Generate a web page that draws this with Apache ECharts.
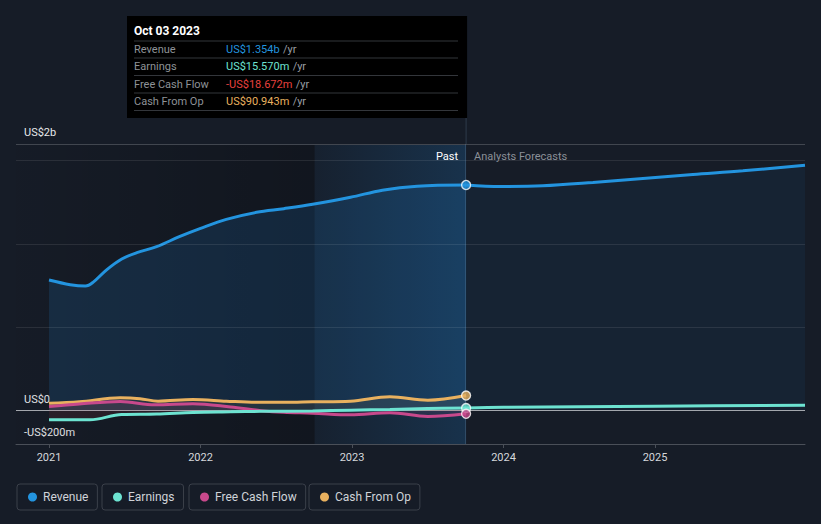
<!DOCTYPE html>
<html>
<head>
<meta charset="utf-8">
<script src="https://cdn.jsdelivr.net/npm/echarts@6/dist/echarts.min.js"></script>
<style>
html,body{margin:0;padding:0;background:#161c27;}
#chart{width:821px;height:524px;}
</style>
</head>
<body>
<div id="chart"></div>
<script>
// ---- data (values in US$ billions, x in decimal years) ----
const pastEnd = 2023.753;
const bandStart = 2022.753;
const xTickValues = [2021, 2022, 2023, 2024, 2025];
const yTickValues = [-0.2, 0, 1.6];
const yTickLabels = ['-US$200m', 'US$0', 'US$2b'];
const gridValues = [0.5, 1.0, 1.5];

const revPastX = [2021.0, 2021.14, 2021.24, 2021.29, 2021.38, 2021.48, 2021.58, 2021.71, 2021.86, 2022.0, 2022.17, 2022.37, 2022.55, 2022.74, 2022.99, 2023.2, 2023.43, 2023.753];
const revPastY = [0.784, 0.756, 0.748, 0.77, 0.845, 0.91, 0.948, 0.984, 1.044, 1.094, 1.148, 1.19, 1.212, 1.238, 1.28, 1.323, 1.347, 1.354];
const revFcX = [2023.753, 2023.98, 2024.26, 2024.59, 2024.92, 2025.25, 2025.58, 2025.99];
const revFcY = [1.354, 1.345, 1.349, 1.369, 1.393, 1.417, 1.439, 1.473];

const earnPastX = [2021.0, 2021.27, 2021.48, 2021.71, 2021.95, 2022.2, 2022.4, 2022.74, 2022.99, 2023.25, 2023.5, 2023.753];
const earnPastY = [-0.055, -0.055, -0.023, -0.02, -0.011, -0.007, -0.004, -0.002, 0.003, 0.007, 0.013, 0.0156];
const earnFcX = [2023.753, 2024.0, 2025.0, 2025.99];
const earnFcY = [0.0156, 0.020, 0.027, 0.033];

const fcfX = [2021.0, 2021.2, 2021.47, 2021.7, 2021.95, 2022.2, 2022.4, 2022.55, 2022.74, 2022.99, 2023.25, 2023.5, 2023.753];
const fcfY = [0.025, 0.04, 0.055, 0.035, 0.042, 0.022, 0.0, -0.01, -0.015, -0.025, -0.012, -0.035, -0.0187];

const cfoX = [2021.0, 2021.2, 2021.47, 2021.6, 2021.72, 2021.95, 2022.17, 2022.37, 2022.55, 2022.74, 2022.99, 2023.25, 2023.5, 2023.753];
const cfoY = [0.044, 0.053, 0.077, 0.072, 0.057, 0.067, 0.057, 0.05, 0.05, 0.053, 0.057, 0.083, 0.063, 0.0909];

const names = ['Revenue', 'Earnings', 'Free Cash Flow', 'Cash From Op'];
const colors = ['#2394df', '#6de3d1', '#c8498c', '#e9b15f'];

const tipTitle = 'Oct 03 2023';
const tipLabels = ['Revenue', 'Earnings', 'Free Cash Flow', 'Cash From Op'];
const tipValues = ['US$1.354b', 'US$15.570m', '-US$18.672m', 'US$90.943m'];
const tipColors = ['#2394df', '#6de3d1', '#e8413e', '#e9b15f'];

// ---- build ----
const zip = (xs, ys) => xs.map((x, i) => [x, ys[i]]);
const chart = echarts.init(document.getElementById('chart'), null, {renderer: 'svg'});

const lineBase = (name, color, data, area) => ({
  type: 'line', name, data, smooth: 0.35, symbol: 'none',
  lineStyle: {color, width: 3}, itemStyle: {color},
  areaStyle: area ? {color: area} : undefined,
  silent: true, animation: false
});

const legendLefts = [17, 102, 189, 309];
const legends = names.map((n, i) => ({
  data: [n], left: legendLefts[i], top: 484, orient: 'horizontal',
  icon: 'circle', itemWidth: 9, itemHeight: 9, itemGap: 0,
  padding: [7, 9, 7, 11], borderColor: '#3b404a', borderWidth: 1, borderRadius: 3,
  textStyle: {color: '#cfd3d8', fontSize: 12, fontFamily: 'Roboto', padding: [0, 0, 0, 1], lineHeight: 12},
  selectedMode: false
}));

const option = {
  backgroundColor: '#161c27',
  textStyle: {fontFamily: 'Roboto'},
  animation: false,
  legend: legends,
  grid: {left: 16, right: 16, top: 144, bottom: 80, containLabel: false},
  xAxis: {
    type: 'value', min: 2020.782, max: 2025.99,
    splitLine: {show: false},
    axisLine: {show: true, onZero: false, lineStyle: {color: '#4a4f58', width: 1}},
    axisTick: {show: true, customValues: xTickValues, length: 4, lineStyle: {color: '#4a4f58'}},
    axisLabel: {customValues: xTickValues, formatter: v => String(Math.round(v)), color: '#d5d8dc', fontSize: 11, margin: 8}
  },
  yAxis: {
    type: 'value', min: -0.2, max: 1.6,
    splitLine: {show: false}, axisLine: {show: false}, axisTick: {show: false},
    axisLabel: {
      customValues: yTickValues, inside: true, align: 'left', verticalAlign: 'bottom',
      margin: 8, color: '#e6e8eb', fontSize: 11, padding: [0, 0, 6, 0],
      formatter: v => {
        let best = 0;
        yTickValues.forEach((t, i) => { if (Math.abs(t - v) < Math.abs(yTickValues[best] - v)) best = i; });
        return yTickLabels[best];
      }
    }
  },
  series: [
    {
      type: 'line', name: 'bands', data: [], silent: true, z: 0,
      markArea: {
        silent: true,
        data: [
          [{xAxis: 2020.782, itemStyle: {color: {type: 'linear', x: 0, y: 0, x2: 1, y2: 0, colorStops: [{offset: 0, color: 'rgba(0,0,0,0.02)'}, {offset: 1, color: 'rgba(0,0,0,0.22)'}]}}}, {xAxis: bandStart}],
          [{xAxis: bandStart, itemStyle: {color: {type: 'linear', x: 0, y: 0, x2: 1, y2: 0, colorStops: [{offset: 0, color: 'rgba(33,150,243,0.04)'}, {offset: 1, color: 'rgba(33,150,243,0.18)'}]}}}, {xAxis: pastEnd}]
        ]
      },
      markLine: {
        silent: true, symbol: 'none', label: {show: false},
        data: [
          ...gridValues.map(v => ({yAxis: v, lineStyle: {color: 'rgba(255,255,255,0.09)', width: 1, type: 'solid'}})),
          {yAxis: 1.6, lineStyle: {color: '#41464f', width: 1, type: 'solid'}},
          {xAxis: pastEnd, lineStyle: {color: 'rgba(120,150,180,0.25)', width: 1, type: 'solid'}}
        ]
      }
    },
    Object.assign(lineBase('Revenue', colors[0], zip(revPastX, revPastY), 'rgba(33,150,243,0.2)'), {z: 2}),
    Object.assign(lineBase('Revenue', colors[0], zip(revFcX, revFcY), 'rgba(33,150,243,0.09)'), {z: 2}),
    {
      type: 'line', name: 'zero', data: [], silent: true, z: 3,
      markLine: {silent: true, symbol: 'none', label: {show: false},
        data: [{yAxis: 0, lineStyle: {color: '#a3a7ad', width: 1.2, type: 'solid'}}]}
    },
    Object.assign(lineBase('Cash From Op', colors[3], zip(cfoX, cfoY), 'rgba(233,177,95,0.12)'), {z: 4}),
    Object.assign(lineBase('Free Cash Flow', colors[2], zip(fcfX, fcfY), 'rgba(200,73,140,0.15)'), {z: 5}),
    Object.assign(lineBase('Earnings', colors[1], zip(earnPastX, earnPastY), 'rgba(180,60,70,0.18)'), {z: 6}),
    Object.assign(lineBase('Earnings', colors[1], zip(earnFcX, earnFcY), null), {z: 6}),
    {
      type: 'scatter', name: 'markers', silent: true, z: 10, symbolSize: 9,
      itemStyle: {borderColor: '#ffffff', borderWidth: 1.3},
      data: [
        {value: [pastEnd, cfoY[cfoY.length - 1]], itemStyle: {color: colors[3]}},
        {value: [pastEnd, earnPastY[earnPastY.length - 1]], itemStyle: {color: colors[1]}},
        {value: [pastEnd, fcfY[fcfY.length - 1]], itemStyle: {color: colors[2]}},
        {value: [pastEnd, revPastY[revPastY.length - 1]], itemStyle: {color: colors[0]}}
      ]
    }
  ]
};
chart.setOption(option);

// ---- overlay: pinned tooltip and Past / Forecast labels ----
const px = chart.convertToPixel({xAxisIndex: 0}, pastEnd);
const topY = chart.convertToPixel({yAxisIndex: 0}, 1.6);
const boxL = 127, boxT = 16, boxB = 118;
const g = [];
g.push({type: 'line', shape: {x1: px, y1: boxT, x2: px, y2: topY}, style: {stroke: 'rgba(120,150,180,0.25)', lineWidth: 1}, silent: true, z: 50});
g.push({type: 'rect', shape: {x: boxL, y: boxT, width: px - boxL + 1, height: boxB - boxT}, style: {fill: '#000000'}, silent: true, z: 60});
g.push({type: 'text', x: 134, y: 31, style: {text: tipTitle, fill: '#ffffff', font: 'bold 12px Roboto', verticalAlign: 'middle'}, silent: true, z: 61});
const sepY = [41, 58, 75.5, 93, 110.5];
sepY.forEach(y => g.push({type: 'line', shape: {x1: 134, y1: y, x2: 458, y2: y}, style: {stroke: '#33363b', lineWidth: 1}, silent: true, z: 61}));
const rowY = [49.5, 66.5, 84, 101];
tipLabels.forEach((lab, i) => {
  g.push({type: 'text', x: 134, y: rowY[i], style: {text: lab, fill: '#8e9297', font: '11px Roboto', verticalAlign: 'middle'}, silent: true, z: 61});
  g.push({type: 'text', x: 226, y: rowY[i], style: {
    rich: {v: {fill: tipColors[i], font: '11px Roboto'}, u: {fill: '#9a9ea3', font: '11px Roboto'}},
    text: '{v|' + tipValues[i] + '} {u|/yr}', verticalAlign: 'middle'}, silent: true, z: 61});
});
g.push({type: 'text', x: px - 8, y: 156, style: {text: 'Past', fill: '#ffffff', font: '11px Roboto', align: 'right', verticalAlign: 'middle'}, silent: true, z: 40});
g.push({type: 'text', x: px + 8, y: 156, style: {text: 'Analysts Forecasts', fill: '#8b9098', font: '11px Roboto', align: 'left', verticalAlign: 'middle'}, silent: true, z: 40});
chart.setOption({graphic: g});
</script>
</body>
</html>
